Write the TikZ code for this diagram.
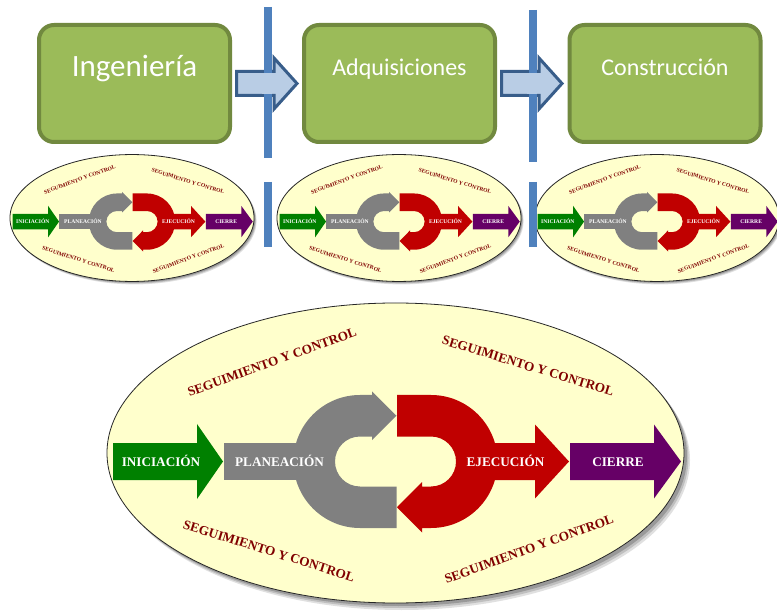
\documentclass[tikz,border=0pt]{standalone}
\usepackage{fontspec}
\setmainfont{Liberation Serif}
\newfontfamily\uifont{Carlito}
\usetikzlibrary{calc}

\definecolor{stagefill}{HTML}{9BBB59}
\definecolor{stageline}{HTML}{71893F}
\definecolor{dividerblue}{HTML}{4F81BD}
\definecolor{flowfill}{HTML}{B9CDE5}
\definecolor{flowline}{HTML}{385D8A}
\definecolor{ovalfill}{HTML}{FFFFCC}
\definecolor{inigreen}{HTML}{008000}
\definecolor{plangrey}{HTML}{808080}
\definecolor{ejered}{HTML}{C00000}
\definecolor{cierrepurple}{HTML}{660066}
\definecolor{segred}{HTML}{800000}

\tikzset{
  stagebox/.style={draw=stageline, fill=stagefill, line width=4pt,
    rounded corners=15pt, inner sep=0pt, minimum width=191pt, minimum height=117pt},
  stagelabel/.style={text=white, anchor=base, inner sep=0pt},
  flowarrow/.style={draw=flowline, fill=flowfill, line width=3pt, line join=miter},
  dividerline/.style={draw=dividerblue, line width=8pt},
  phaselabel/.style={text=white, font=\bfseries\fontsize{13.2}{14}\selectfont,
    anchor=base, inner sep=0pt},
  seglabel/.style={text=segred, font=\bfseries\fontsize{13.2}{14}\selectfont, inner sep=0pt},
}

% Project life-cycle oval: origin at the centre of the oval, y pointing down
\newcommand\cyclediagram[1]{%
  % soft shadow
  \fill[black!12] (6,7) ellipse [x radius=288.5, y radius=150];
  \fill[black!25] (4.5,5) ellipse [x radius=288.5, y radius=150];
  \fill[black!40] (3,3) ellipse [x radius=288.5, y radius=150];
  \draw[black!85, fill=ovalfill, line width=.8pt] (0,0) ellipse [x radius=288.5, y radius=150];
  % initiation
  \fill[inigreen] (-282.5,-10) -- (-198.5,-10) -- (-198.5,-29) -- (-172.5,8.5)
    -- (-198.5,46) -- (-198.5,27) -- (-282.5,27) -- cycle;
  % planning: shaft and turning arrow
  \fill[plangrey] (-171.5,-10) rectangle (-70,27);
  \fill[plangrey] (-35.5,-58) arc[start angle=270, end angle=90, radius=66.5]
    -- (1,75) -- (1,33.5) -- (-35.5,33.5)
    arc[start angle=90, end angle=270, radius=25]
    -- (-23.5,-16.5) -- (-23.5,-13) -- (1,-37.25) -- (-23.5,-61.5) -- (-23.5,-58) -- cycle;
  % execution: turning arrow and shaft
  \fill[ejered] (1.5,-58) -- (35.5,-58) arc[start angle=270, end angle=450, radius=66.5]
    -- (26.5,75) -- (26.5,79.5) -- (1.5,54.25) -- (26.5,29) -- (26.5,33.5) -- (35.5,33.5)
    arc[start angle=90, end angle=-90, radius=25] -- (1.5,-16.5) -- cycle;
  \fill[ejered] (80,-10) -- (139.5,-10) -- (139.5,-28.5) -- (173.5,8.5)
    -- (139.5,45.5) -- (139.5,27) -- (80,27) -- cycle;
  % closing
  \fill[cierrepurple] (174.5,-10) -- (258.5,-10) -- (258.5,-28.5) -- (285.5,8.5)
    -- (258.5,45.5) -- (258.5,27) -- (174.5,27) -- cycle;
  % labels
  \node[phaselabel] (#1-ini) at (-234.5,13.4) {INICIACIÓN};
  \node[phaselabel] (#1-pla) at (-116,13.4) {PLANEACIÓN};
  \node[phaselabel] (#1-eje) at (110,13.4) {EJECUCIÓN};
  \node[phaselabel] (#1-cie) at (222.5,13.4) {CIERRE};
  \node[seglabel, rotate=20] (#1-seg1) at (-123.5,-91) {SEGUIMIENTO Y CONTROL};
  \node[seglabel, rotate=-17] (#1-seg2) at (132.5,-87) {SEGUIMIENTO Y CONTROL};
  \node[seglabel, rotate=-17.5] (#1-seg3) at (-126.5,98) {SEGUIMIENTO Y CONTROL};
  \node[seglabel, rotate=20] (#1-seg4) at (133.5,96) {SEGUIMIENTO Y CONTROL};
}

\begin{document}
\begin{tikzpicture}[x=1pt, y=-1pt]
  \useasboundingbox (0,0) rectangle (777,612);
  \fill[white] (0,0) rectangle (777,612);

  % small life-cycle ovals under each stage
  \begin{scope}[shift={(132,218)}, scale=0.423, transform shape]
    \cyclediagram{ovA}
  \end{scope}
  \begin{scope}[shift={(399,218)}, scale=0.423, transform shape]
    \cyclediagram{ovB}
  \end{scope}
  \begin{scope}[shift={(657,218)}, scale=0.423, transform shape]
    \cyclediagram{ovC}
  \end{scope}

  % large life-cycle oval
  \begin{scope}[shift={(395.5,453)}]
    \cyclediagram{ovBig}
  \end{scope}

  % stage boxes
  \node[stagebox] (ing) at (134.5,83.5) {};
  \node[stagebox] (adq) at (399.5,83.5) {};
  \node[stagebox] (con) at (665,83.5) {};
  \node[stagelabel, font=\uifont\fontsize{31}{31}\selectfont] (ingtxt) at (134.5,77) {Ingeniería};
  \node[stagelabel, font=\uifont\fontsize{24}{24}\selectfont] (adqtxt) at (399.5,76) {Adquisiciones};
  \node[stagelabel, font=\uifont\fontsize{24}{24}\selectfont] (contxt) at (665,76) {Construcción};

  % block arrows between stages
  \draw[flowarrow] ($(ing.east)+(4.5,-12)$) -- ++(37.5,0) -- ++(0,-13.5) -- ++(23,25.5)
    -- ++(-23,25.5) -- ++(0,-13.5) -- ++(-37.5,0) -- cycle;
  \draw[flowarrow] ($(adq.east)+(4.5,-12)$) -- ++(37.5,0) -- ++(0,-13.5) -- ++(23,25.5)
    -- ++(-23,25.5) -- ++(0,-13.5) -- ++(-37.5,0) -- cycle;

  % stage dividers (they cross the arrow outlines, the arrow shafts stay on top)
  \draw[dividerline] (267.5,7) -- (267.5,158);
  \draw[dividerline] (267.5,182) -- (267.5,247);
  \draw[dividerline] (532.5,10) -- (532.5,162);
  \draw[dividerline] (532.5,182) -- (532.5,247);
  \fill[flowfill] ($(ing.east)+(30,-10.5)$) rectangle ++(10,21);
  \fill[flowfill] ($(adq.east)+(30,-10.5)$) rectangle ++(10,21);
\end{tikzpicture}
\end{document}
